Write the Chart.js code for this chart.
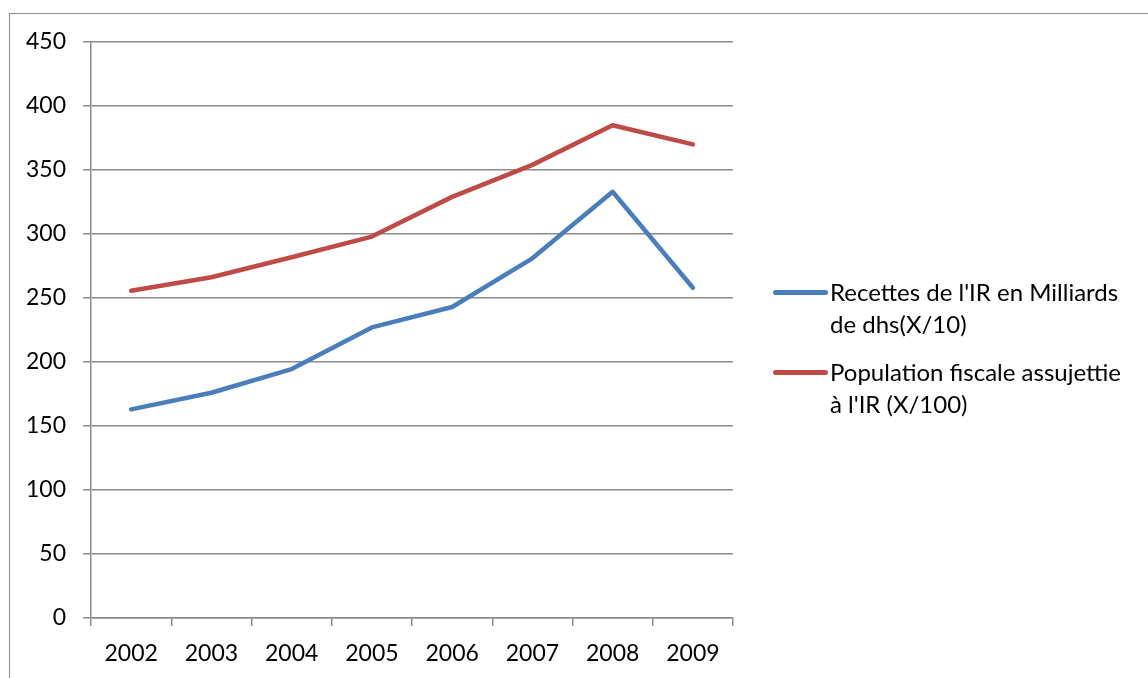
<!DOCTYPE html>
<html>
<head>
<meta charset="utf-8">
<script src="https://cdn.jsdelivr.net/npm/chart.js@4/dist/chart.umd.min.js"></script>
<style>
  html, body { margin:0; padding:0; background:#fff; overflow:hidden; }
  #wrap { position:relative; width:1148px; height:678px; overflow:hidden; }
  #frame { position:absolute; left:9px; top:13px; width:1200px; height:700px; border:1.5px solid #8c8c8c; box-sizing:border-box; }
  #chartBox { position:absolute; left:0; top:0; width:1148px; height:678px; }
  #legend { position:absolute; left:773px; top:276px; font-family:Lato, "Open Sans", sans-serif; font-size:24px; color:#000; }
  .item { position:relative; padding-left:57px; width:300px; line-height:32px; margin-bottom:16px; }
  .swatch { position:absolute; left:0; top:14px; width:55px; height:5px; border-radius:3px; }
</style>
</head>
<body>
<div id="wrap">
  <div id="frame"></div>
  <div id="chartBox"><canvas id="c"></canvas></div>
  <div id="legend"></div>
</div>
<script>
const years = ["2002","2003","2004","2005","2006","2007","2008","2009"];
const recettes = [163, 176, 194.5, 227, 243, 281, 333, 258];
const population = [255.7, 266.2, 281.8, 298, 329, 354, 385, 370];
const seriesLabels = ["Recettes de l'IR en Milliards de dhs(X/10)", "Population fiscale assujettie à l'IR (X/100)"];
const seriesColors = ["#4a7ebb", "#be4b48"];
const yMin = 0, yMax = 450, yStep = 50;

const gridGray = "#8c8c8c";
const tickFont = { family: 'Lato, "Open Sans", sans-serif', size: 23 };
const chart = new Chart(document.getElementById('c'), {
  type: 'line',
  data: {
    labels: years,
    datasets: [
      { label: seriesLabels[0], data: recettes, borderColor: seriesColors[0], backgroundColor: seriesColors[0], borderWidth: 4.5, pointRadius: 0, tension: 0, borderCapStyle: 'round', borderJoinStyle: 'round' },
      { label: seriesLabels[1], data: population, borderColor: seriesColors[1], backgroundColor: seriesColors[1], borderWidth: 4.5, pointRadius: 0, tension: 0, borderCapStyle: 'round', borderJoinStyle: 'round' }
    ]
  },
  options: {
    responsive: true,
    maintainAspectRatio: false,
    devicePixelRatio: 1,
    animation: false,
    events: [],
    layout: { padding: { top: 42, right: 415, bottom: 0, left: 0 } },
    plugins: { legend: { display: false }, tooltip: { enabled: false } },
    scales: {
      x: {
        offset: true,
        grid: { offset: true, drawOnChartArea: false, tickLength: 8, color: gridGray, lineWidth: 1.5 },
        border: { color: gridGray, width: 1.5 },
        ticks: { color: '#000', font: tickFont, padding: 14, maxRotation: 0 },
        afterFit: s => { s.height = 60; }
      },
      y: {
        min: yMin, max: yMax,
        grid: { color: gridGray, lineWidth: 1.5, tickLength: 8 },
        border: { color: gridGray, width: 1.5 },
        ticks: { stepSize: yStep, color: '#000', font: tickFont, padding: 17 },
        afterFit: s => { s.width = 91; }
      }
    }
  }
});

const legendEl = document.getElementById('legend');
chart.data.datasets.forEach(ds => {
  const item = document.createElement('div');
  item.className = 'item';
  const sw = document.createElement('span');
  sw.className = 'swatch';
  sw.style.background = ds.borderColor;
  item.appendChild(sw);
  item.appendChild(document.createTextNode(ds.label));
  legendEl.appendChild(item);
});
</script>
</body>
</html>
